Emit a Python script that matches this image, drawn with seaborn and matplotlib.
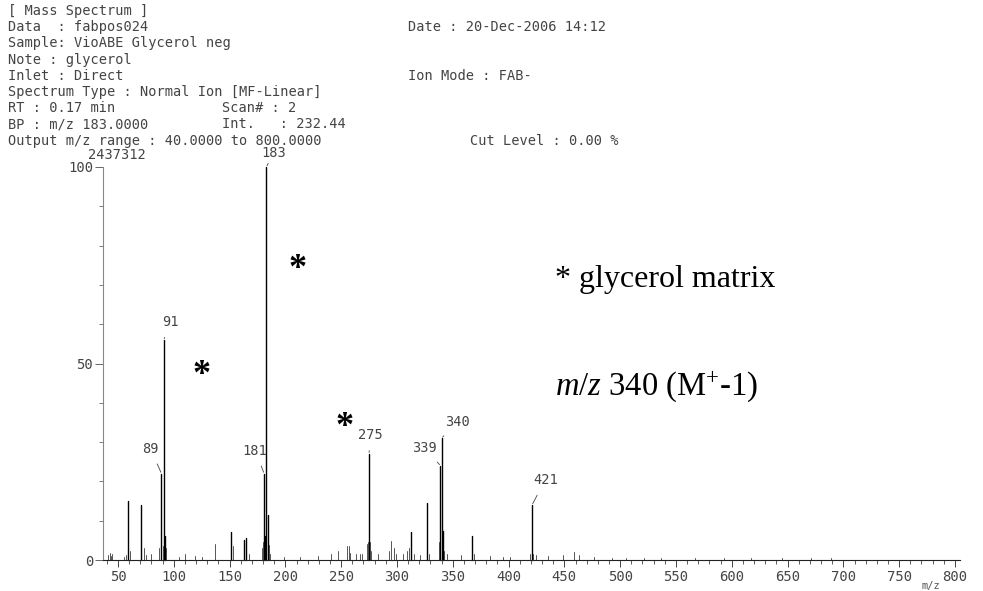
import matplotlib
matplotlib.use("Agg")
import matplotlib.pyplot as plt
import numpy as np
import pandas as pd
import seaborn as sns

# ---------------- data ----------------
peak_mz = [41, 43, 44, 45, 55, 57, 59, 61, 71, 73, 75, 80, 87, 89, 90, 91, 92, 93,
           105, 110, 119, 125, 137, 151, 153, 163, 165, 167, 179, 180, 181, 182, 183,
           184, 185, 186, 199, 213, 229, 241, 247, 255, 257, 258, 263, 267, 269, 273,
           274, 275, 276, 277, 283, 293, 295, 297, 299, 305, 309, 311, 313, 315, 321,
           327, 329, 338, 339, 340, 341, 342, 345, 357, 367, 369, 383, 395, 401, 419,
           421, 422, 425, 435, 449, 459, 463, 477, 493, 505, 521, 537, 567, 593, 617,
           645, 671, 689]
peak_rel = [1.2, 1.8, 0.9, 1.5, 0.8, 1.2, 15, 2.2, 14, 3, 1.2, 1.5, 3, 22, 3.5, 56, 6, 3,
            0.8, 1.5, 0.9, 0.8, 4, 7, 3.5, 5, 5.5, 1.5, 3, 4.5, 22, 6, 100,
            11.5, 3.8, 1.5, 0.8, 0.8, 0.9, 1.5, 2.4, 3.5, 3.5, 1.8, 1.5, 1.5, 1.5, 4,
            4.5, 27, 4.5, 2.2, 1.5, 2.2, 4.8, 3, 1.5, 1.5, 2.2, 3, 7, 1.5, 1.2,
            14.5, 1.5, 4.5, 24, 31, 7.5, 2.2, 1.5, 1.2, 6, 1.5, 0.9, 0.8, 0.8, 1.5,
            14, 1.5, 1.2, 0.9, 1.2, 2, 1.2, 0.8, 0.6, 0.6, 0.6, 0.5, 0.5, 0.5, 0.5,
            0.5, 0.5, 0.5]

label_mz = [89, 91, 181, 183, 275, 339, 340, 421]
label_text = ["89", "91", "181", "183", "275", "339", "340", "421"]

x_ticks = [50, 100, 150, 200, 250, 300, 350, 400, 450, 500, 550, 600, 650, 700, 750, 800]
y_ticks = [0, 50, 100]
base_intensity = "2437312"

header_rows = [
    ["[ Mass Spectrum ]"],
    ["Data  : fabpos024", "Date : 20-Dec-2006 14:12"],
    ["Sample: VioABE Glycerol neg"],
    ["Note : glycerol"],
    ["Inlet : Direct", "Ion Mode : FAB-"],
    ["Spectrum Type : Normal Ion [MF-Linear]"],
    ["RT : 0.17 min", "Scan# : 2"],
    ["BP : m/z 183.0000", "Int.   : 232.44"],
    ["Output m/z range : 40.0000 to 800.0000", "Cut Level : 0.00 %"],
]
header_second_col = {1: 408, 4: 408, 6: 222, 7: 222, 8: 470}

# ---------------- style ----------------
sns.set_theme(style="white")
plt.rcParams["font.family"] = ["DejaVu Sans Mono"]
plt.rcParams["mathtext.fontset"] = "custom"
plt.rcParams["mathtext.it"] = "Liberation Serif:italic"
plt.rcParams["mathtext.rm"] = "Liberation Serif"

W, H = 983, 591
fig = plt.figure(figsize=(W / 100, H / 100), dpi=100)
fig.patch.set_facecolor("white")

def fxy(x, y):
    return x / W, 1 - y / H

ink = "#444444"
txt_kw = dict(fontsize=9.8, color=ink, va="center", ha="left")

row_y0, row_dy = 11, 16.2
for i, row in enumerate(header_rows):
    y = row_y0 + i * row_dy
    fig.text(*fxy(8, y), row[0], **txt_kw)
    if len(row) > 1:
        fig.text(*fxy(header_second_col[i], y), row[1], **txt_kw)

# ---------------- spectrum axes ----------------
ax_l, ax_r, ax_t, ax_b = 103, 960, 167, 560
ax = fig.add_axes([ax_l / W, 1 - ax_b / H, (ax_r - ax_l) / W, (ax_b - ax_t) / H])
ax.set_facecolor("white")

rows = []
for k, (m, r) in enumerate(zip(peak_mz, peak_rel)):
    rows.append({"peak": k, "mz": m, "rel": 0.0, "strong": r >= 5})
    rows.append({"peak": k, "mz": m, "rel": r, "strong": r >= 5})
stick = pd.DataFrame(rows)

sns.lineplot(data=stick[~stick["strong"]], x="mz", y="rel", units="peak",
             estimator=None, sort=False, color="#555555", linewidth=0.7, ax=ax)
sns.lineplot(data=stick[stick["strong"]], x="mz", y="rel", units="peak",
             estimator=None, sort=False, color="black", linewidth=1.0, ax=ax)
for line in ax.get_lines():
    line.set_clip_on(False)

ax.set_xlim(36.6, 804.5)
ax.set_ylim(0, 100)
ax.set_xlabel("")
ax.set_ylabel("")
for s in ["top", "right"]:
    ax.spines[s].set_visible(False)
ax.spines["bottom"].set_color("#222222")
ax.spines["bottom"].set_linewidth(0.8)
ax.spines["left"].set_color("#888888")
ax.spines["left"].set_linewidth(0.8)

ax.set_xticks(x_ticks)
ax.set_xticklabels([str(t) for t in x_ticks])
ax.set_xticks(np.arange(40, 801, 10), minor=True)
ax.set_yticks(y_ticks)
ax.set_yticklabels([str(t) for t in y_ticks])
ax.set_yticks(np.arange(0, 101, 10), minor=True)
ax.tick_params(axis="x", which="major", bottom=True, direction="out", length=5,
               width=0.7, color=ink, labelsize=10, labelcolor=ink, pad=2)
ax.tick_params(axis="x", which="minor", bottom=True, direction="out", length=3,
               width=0.6, color=ink)
ax.tick_params(axis="y", which="major", left=True, direction="out", length=6,
               width=0.7, color="#666666", labelsize=10, labelcolor=ink, pad=1)
ax.tick_params(axis="y", which="minor", left=True, direction="out", length=3,
               width=0.6, color="#666666")

fig.text(*fxy(88, 155), base_intensity, fontsize=9.8, color=ink,
         ha="left", va="center")
fig.text(*fxy(922, 586), "m/z", fontsize=7.5, color="#555555", ha="left", va="center")

# peak labels with short leader strokes (offsets in points)
label_offsets = {89: (-8, 18), 91: (4.5, 13), 181: (-6.5, 16.5), 183: (5, 10),
                 275: (0.7, 13.7), 339: (-11.5, 13), 340: (11.5, 12), 421: (9.5, 18)}
heights = dict(zip(peak_mz, peak_rel))
for m, t in zip(label_mz, label_text):
    dx, dy = label_offsets[m]
    ax.annotate(t, xy=(m, heights[m]), xytext=(dx, dy), textcoords="offset points",
                ha="center", va="center", fontsize=9.8, color=ink,
                arrowprops=dict(arrowstyle="-", color=ink, lw=0.6,
                                shrinkA=4, shrinkB=1),
                annotation_clip=False)

# matrix markers and notes
serif = ["Liberation Serif", "DejaVu Serif"]
for (x, y) in [(298, 270), (202, 375), (345, 428)]:
    fig.text(*fxy(x, y), "*", fontsize=26, fontweight="bold", family=serif,
             ha="center", va="center", color="black")
fig.text(*fxy(555, 279), "* glycerol matrix", fontsize=23, family=serif,
         ha="left", va="center", color="black")
fig.text(*fxy(555, 386), r"$m/z$ 340 (M$^{+}$-1)", fontsize=23.5, family=serif,
         ha="left", va="center", color="black")

fig.savefig("out.png", dpi=100, facecolor="white")
